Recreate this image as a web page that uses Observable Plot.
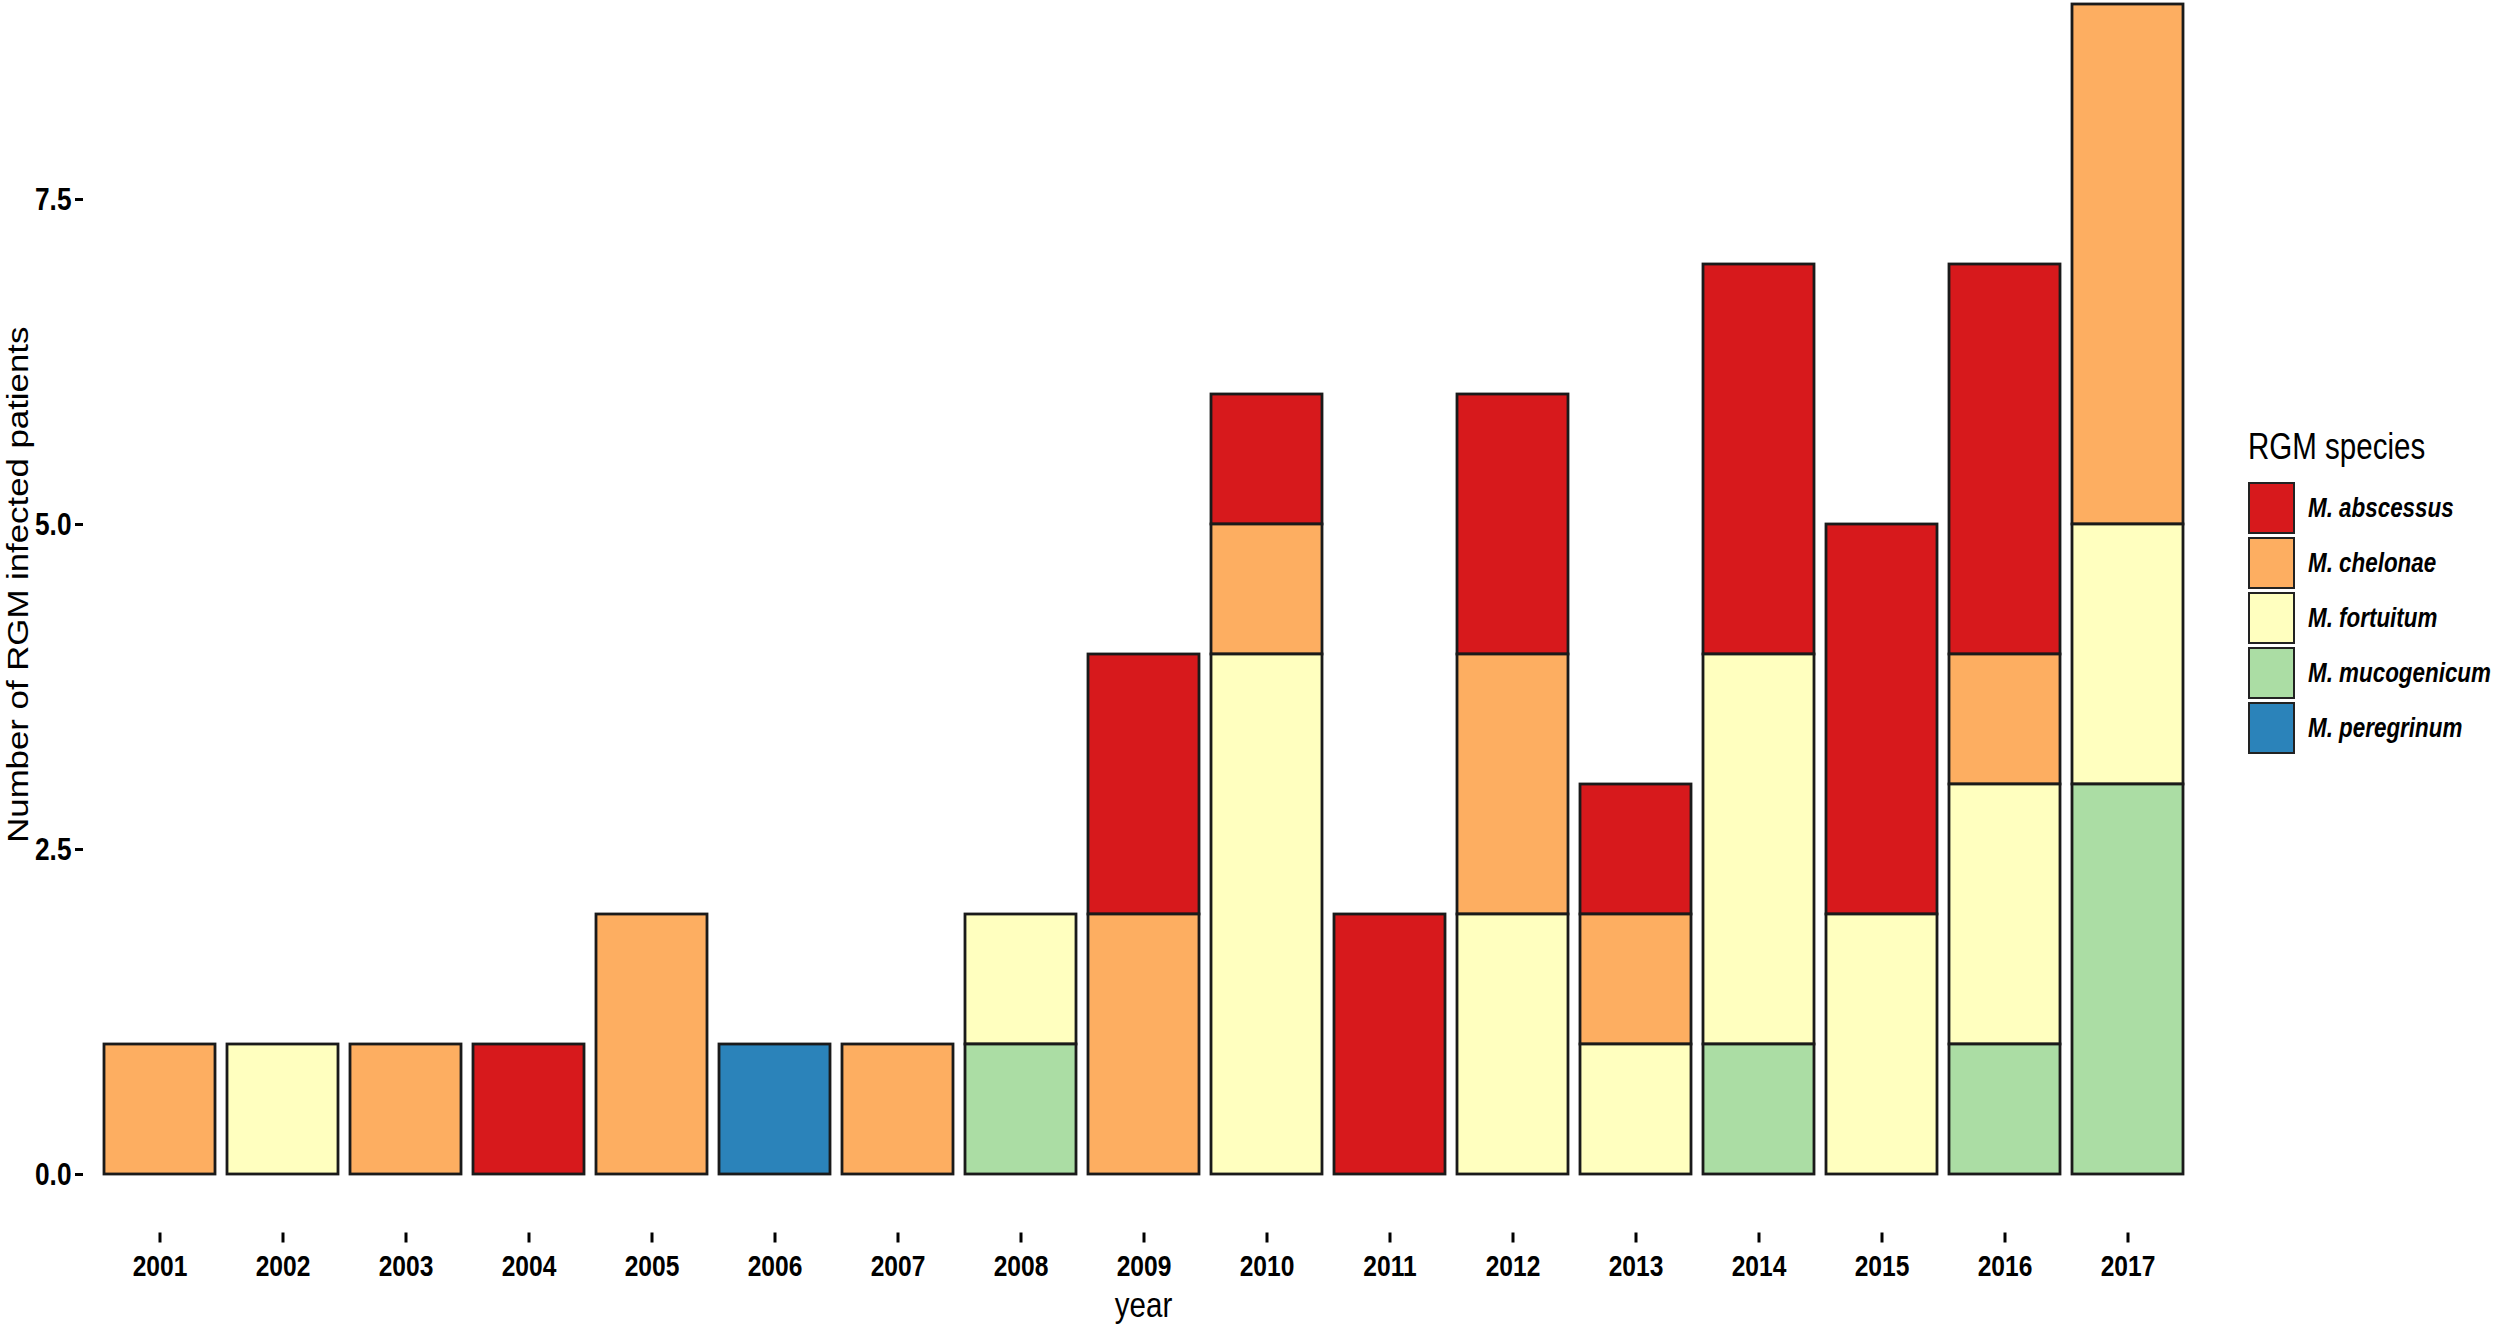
<!DOCTYPE html>
<html>
<head>
<meta charset="utf-8">
<script src="https://cdn.jsdelivr.net/npm/d3@7"></script>
<script src="https://cdn.jsdelivr.net/npm/@observablehq/plot@0.6"></script>
<style>
  html, body { margin: 0; padding: 0; background: #fff; }
  #wrap { position: relative; width: 2500px; height: 1326px; overflow: hidden; }
  #legend { position: absolute; left: 2248px; top: 426px; font-family: "Liberation Sans", Arial, sans-serif; color: #000; }
  #legend .title { font-size: 36px; line-height: 42px; margin-bottom: 12px; white-space: nowrap; transform: scaleX(0.82); transform-origin: left center; }
  #legend .row { display: flex; align-items: center; height: 55px; }
  #legend .key { width: 43px; height: 48px; border: 2.5px solid #222; box-sizing: content-box; flex: none; }
  #legend .lab { margin-left: 13px; font-size: 28px; font-style: italic; font-weight: bold; white-space: nowrap; transform: scaleX(0.8); transform-origin: left center; }
</style>
</head>
<body>
<div id="wrap"><div id="chart"></div><div id="legend"></div></div>
<script>
const years = ["2001","2002","2003","2004","2005","2006","2007","2008","2009","2010","2011","2012","2013","2014","2015","2016","2017"];
const species = ["M. abscessus","M. chelonae","M. fortuitum","M. mucogenicum","M. peregrinum"];
const colors = ["#d7191c","#fdae61","#ffffbf","#abdda4","#2b83ba"];
const abscessus   = [0,0,0,1,0,0,0,0,2,1,2,2,1,3,3,3,0];
const chelonae    = [1,0,1,0,2,0,1,0,2,1,0,2,1,0,0,1,4];
const fortuitum   = [0,1,0,0,0,0,0,1,0,4,0,2,1,3,2,2,2];
const mucogenicum = [0,0,0,0,0,0,0,1,0,0,0,0,0,1,0,1,3];
const peregrinum  = [0,0,0,0,0,1,0,0,0,0,0,0,0,0,0,0,0];
const yTicks = [0, 2.5, 5, 7.5];
const yLabel = "Number of RGM infected patients";
const xLabel = "year";
const legendTitle = "RGM species";

const series = [abscessus, chelonae, fortuitum, mucogenicum, peregrinum];
const table = [];
species.forEach((s, i) => {
  years.forEach((y, j) => {
    if (series[i][j] > 0) table.push({year: y, species: s, count: series[i][j]});
  });
});
const stackOrder = species.slice().reverse();

const font = "'Liberation Sans', Arial, sans-serif";

const chart = Plot.plot({
  width: 2500,
  height: 1326,
  marginLeft: 83,
  marginRight: 297,
  marginTop: 4,
  marginBottom: 93.5,
  style: {background: "#fff", color: "#000", fontFamily: font},
  x: {type: "band", domain: years, paddingInner: 0.1, paddingOuter: 0.15, label: null},
  y: {domain: [-0.45, 9], label: null},
  color: {domain: species, range: colors},
  marks: [
    Plot.barY(table, {x: "year", y: "count", fill: "species", stroke: "#1a1a1a", strokeWidth: 2.8, order: stackOrder}),
    Plot.axisX({tickSize: 10, tickPadding: 12, fontSize: 30, fontWeight: "bold", strokeWidth: 3, label: null}),
    Plot.axisY({ticks: yTicks, tickFormat: d3.format(".1f"), tickSize: 8, tickPadding: 4, fontSize: 32, fontWeight: "bold", strokeWidth: 3, label: null}),
    Plot.text([yLabel], {text: d => d, frameAnchor: "left", textAnchor: "middle", lineAnchor: "middle", rotate: -90, dx: -65, dy: -34, fontSize: 30}),
    Plot.text([xLabel], {text: d => d, frameAnchor: "bottom", textAnchor: "middle", lineAnchor: "middle", dy: 72, fontSize: 36})
  ]
});
document.getElementById("chart").appendChild(chart);

// the reference's lettering is vertically stretched: narrow horizontal text, lengthen rotated text
function squeeze(sel, sx, sy) {
  sel.each(function () {
    const t = this.getAttribute("transform") || "";
    this.setAttribute("transform", `${t} scale(${sx},${sy})`.trim());
  });
}
const svg = d3.select(chart);
squeeze(svg.selectAll('g[aria-label="x-axis tick label"] text, g[aria-label="y-axis tick label"] text'), 0.82, 1);
svg.selectAll('g[aria-label="text"] text').each(function () {
  const s = d3.select(this);
  if (s.text() === yLabel) squeeze(s, 1.16, 1);
  else squeeze(s, 0.82, 1);
});

const legend = document.getElementById("legend");
const t = document.createElement("div");
t.className = "title";
t.textContent = legendTitle;
legend.appendChild(t);
species.forEach((s, i) => {
  const row = document.createElement("div");
  row.className = "row";
  const k = document.createElement("div");
  k.className = "key";
  k.style.background = colors[i];
  const l = document.createElement("div");
  l.className = "lab";
  l.textContent = s;
  row.appendChild(k);
  row.appendChild(l);
  legend.appendChild(row);
});
</script>
</body>
</html>
